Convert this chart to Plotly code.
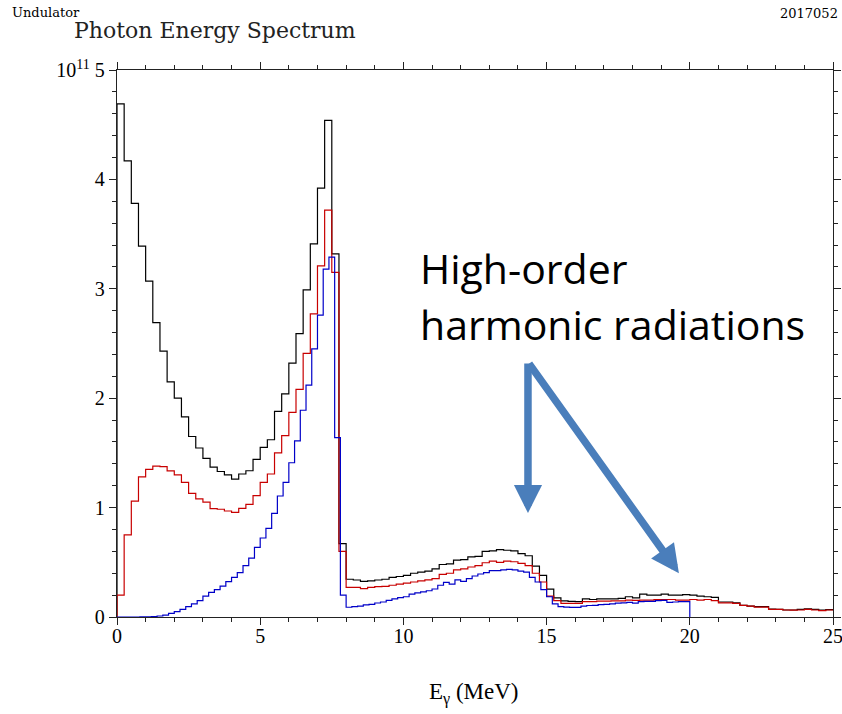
import numpy as np
import plotly.graph_objects as go

# Histogram binning (MeV)
main_bin_width = 0.25   # black and red spectra, 0-25 MeV
blue_bin_width = 0.20   # blue spectrum, 0-20 MeV

# Photon counts per bin, in units of 1e11
black_counts = [
    4.69, 4.17, 3.78, 3.39, 3.07, 2.69, 2.43, 2.15, 2.00, 1.83,
    1.65, 1.545, 1.45, 1.37, 1.33, 1.30, 1.26, 1.307, 1.337, 1.44,
    1.55, 1.62, 1.88, 2.04, 2.32, 2.59, 2.99, 3.41, 3.92, 4.54,
    3.32, 0.67, 0.345, 0.338, 0.326, 0.33, 0.338, 0.345, 0.363, 0.37,
    0.38, 0.40, 0.41, 0.42, 0.44, 0.48, 0.485, 0.52, 0.525, 0.55,
    0.555, 0.60, 0.605, 0.615, 0.61, 0.605, 0.58, 0.56, 0.465, 0.38,
    0.255, 0.175, 0.148, 0.142, 0.14, 0.165, 0.16, 0.165, 0.165, 0.165,
    0.17, 0.185, 0.175, 0.21, 0.20, 0.20, 0.21, 0.20, 0.20, 0.205,
    0.20, 0.19, 0.185, 0.18, 0.137, 0.137, 0.13, 0.107, 0.10, 0.095,
    0.095, 0.073, 0.07, 0.064, 0.064, 0.07, 0.075, 0.07, 0.064, 0.067,
]

red_counts = [
    0.20, 0.75, 1.06, 1.28, 1.35, 1.38, 1.375, 1.335, 1.30, 1.23,
    1.13, 1.08, 1.05, 0.99, 0.985, 0.969, 0.957, 0.993, 1.03, 1.11,
    1.23, 1.307, 1.50, 1.657, 1.87, 2.08, 2.41, 2.77, 3.21, 3.72,
    3.15, 0.60, 0.27, 0.27, 0.26, 0.27, 0.277, 0.28, 0.29, 0.30,
    0.31, 0.32, 0.33, 0.34, 0.35, 0.39, 0.40, 0.43, 0.44, 0.457,
    0.47, 0.496, 0.51, 0.50, 0.51, 0.505, 0.49, 0.47, 0.40, 0.32,
    0.19, 0.15, 0.125, 0.125, 0.125, 0.14, 0.14, 0.145, 0.145, 0.148,
    0.148, 0.155, 0.152, 0.155, 0.155, 0.158, 0.16, 0.16, 0.155, 0.155,
    0.16, 0.155, 0.16, 0.15, 0.13, 0.13, 0.125, 0.107, 0.10, 0.09,
    0.09, 0.07, 0.07, 0.064, 0.062, 0.064, 0.07, 0.064, 0.058, 0.064,
]

blue_counts = [
    0.0, 0.0, 0.0, 0.0, 0.001, 0.002, 0.004, 0.009, 0.018, 0.034,
    0.049, 0.07, 0.094, 0.12, 0.15, 0.19, 0.225, 0.25, 0.283, 0.323,
    0.363, 0.405, 0.469, 0.539, 0.637, 0.722, 0.81, 0.948, 1.106, 1.23,
    1.41, 1.61, 1.89, 2.12, 2.45, 2.76, 3.18, 3.29, 1.64, 0.20,
    0.089, 0.094, 0.10, 0.11, 0.115, 0.128, 0.137, 0.152, 0.165, 0.177,
    0.185, 0.21, 0.22, 0.23, 0.24, 0.256, 0.29, 0.317, 0.30, 0.34,
    0.325, 0.35, 0.375, 0.393, 0.405, 0.423, 0.423, 0.43, 0.435, 0.43,
    0.42, 0.41, 0.363, 0.32, 0.25, 0.185, 0.12, 0.095, 0.09, 0.088,
    0.088, 0.10, 0.105, 0.107, 0.113, 0.115, 0.12, 0.126, 0.13, 0.134,
    0.126, 0.14, 0.143, 0.143, 0.15, 0.152, 0.134, 0.137, 0.14, 0.14,
]

x_tick_vals = [0, 5, 10, 15, 20, 25]
y_tick_vals = [0, 1, 2, 3, 4, 5]
y_tick_text = ["0", "1", "2", "3", "4", "10<sup>11</sup> 5"]

# Harmonic peaks pointed at by the arrows (MeV, 1e11) and the arrow origin
arrow_origin = (14.35, 2.33)
arrow_targets = [(14.35, 0.95), (19.62, 0.40)]


def step_points(counts, width, close=False):
    """Bin edges / heights for a step ('hv') histogram outline."""
    edges = width * np.arange(len(counts) + 1)
    xs = np.concatenate([[edges[0]], edges])
    ys = np.concatenate([[0.0], counts, [counts[-1]]])
    if close:
        xs = np.append(xs, edges[-1])
        ys = np.append(ys, 0.0)
    return xs, ys


fig = go.Figure()

for counts, width, color, close in [
    (black_counts, main_bin_width, "#000000", False),
    (red_counts, main_bin_width, "#c80000", False),
    (blue_counts, blue_bin_width, "#0000c8", True),
]:
    xs, ys = step_points(counts, width, close)
    fig.add_trace(go.Scatter(
        x=xs, y=ys, mode="lines",
        line=dict(color=color, width=1.2, shape="hv"),
        showlegend=False, hoverinfo="skip",
    ))

serif = "Liberation Serif, DejaVu Serif, serif"
axis_common = dict(
    showline=True, linecolor="#222222", linewidth=1.3, mirror="allticks",
    ticks="outside", ticklen=7, tickwidth=1.2, tickcolor="#222222",
    showgrid=False, zeroline=False, automargin=False,
    ticklabeloverflow="allow",
    tickfont=dict(family=serif, size=20, color="#000000"),
)

fig.update_layout(
    width=842, height=714,
    margin=dict(l=117, r=9, t=70, b=97),
    paper_bgcolor="white", plot_bgcolor="white",
    xaxis=dict(
        range=[0, 25], tickvals=x_tick_vals, ticklabelstandoff=-6,
        minor=dict(dtick=1, ticks="outside", ticklen=4, tickcolor="#222222", showgrid=False),
        **axis_common,
    ),
    yaxis=dict(
        range=[0, 5], tickvals=y_tick_vals, ticktext=y_tick_text,
        minor=dict(dtick=0.2, ticks="outside", ticklen=4, tickcolor="#222222", showgrid=False),
        **axis_common,
    ),
)

annotations = [
    dict(text="Undulator", x=-0.149, y=1.106, xref="paper", yref="paper",
         xanchor="left", yanchor="middle", showarrow=False,
         font=dict(family="DejaVu Serif", size=13, color="#000000")),
    dict(text="2017052", x=1.0098, y=1.104, xref="paper", yref="paper",
         xanchor="right", yanchor="middle", showarrow=False,
         font=dict(family="DejaVu Serif", size=13, color="#000000")),
    dict(text="Photon Energy Spectrum", x=-0.0628, y=1.073, xref="paper", yref="paper",
         xanchor="left", yanchor="middle", showarrow=False,
         font=dict(family="DejaVu Serif", size=22, color="#222222")),
    dict(text="E<sub>γ</sub> (MeV)", x=0.4986, y=-0.139, xref="paper", yref="paper",
         xanchor="center", yanchor="middle", showarrow=False,
         font=dict(family=serif, size=23, color="#000000")),
    dict(text="High-order", x=0.4204, y=(617 - 268) / 547, xref="paper", yref="paper",
         xanchor="left", yanchor="middle", showarrow=False,
         font=dict(family="Open Sans", size=41, color="#000000")),
    dict(text="harmonic radiations", x=0.4204, y=(617 - 324) / 547, xref="paper", yref="paper",
         xanchor="left", yanchor="middle", showarrow=False,
         font=dict(family="Open Sans", size=41, color="#000000")),
]
for tx, ty in arrow_targets:
    annotations.append(dict(
        x=tx, y=ty, ax=arrow_origin[0], ay=arrow_origin[1],
        xref="x", yref="y", axref="x", ayref="y", text="",
        showarrow=True, arrowhead=2, arrowsize=0.75, arrowwidth=7.5,
        arrowcolor="#4a7ebb",
    ))
fig.update_layout(annotations=annotations)

fig.write_html("out.html")
